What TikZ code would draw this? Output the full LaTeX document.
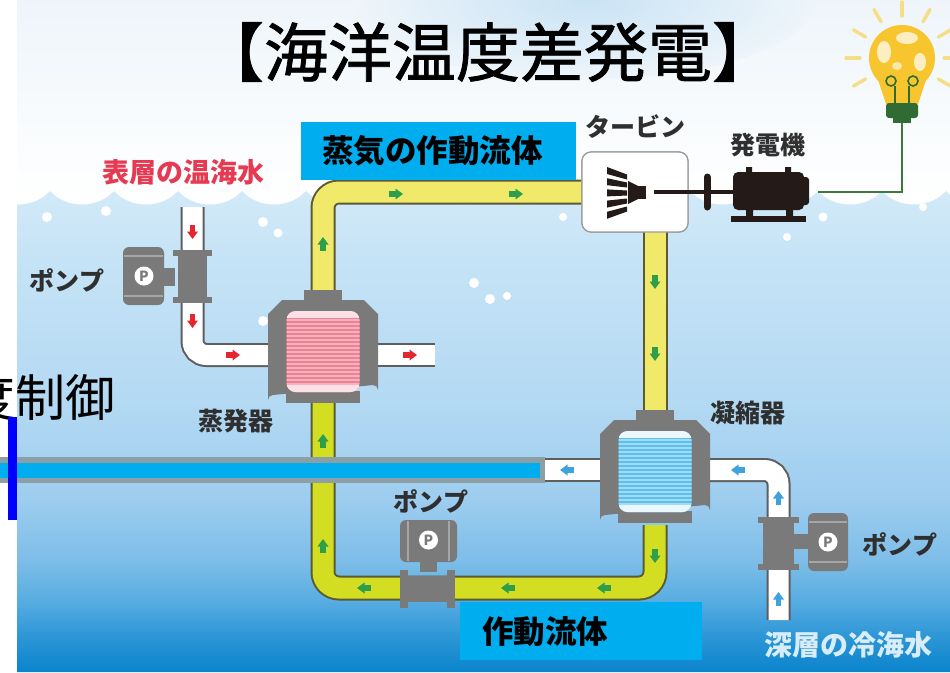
\documentclass[tikz,border=0pt]{standalone}
\usepackage{fontspec}
\newfontfamily\jp{Noto Sans CJK JP}
\newfontfamily\jpheavy[FakeBold=1.2]{Noto Sans CJK JP}
\usetikzlibrary{calc}

% palette
\definecolor{seaA}{HTML}{0A84CC}
\definecolor{seaB}{HTML}{2B95D6}
\definecolor{seaC}{HTML}{58ADE1}
\definecolor{seaD}{HTML}{7DBDE8}
\definecolor{seaE}{HTML}{9DCDEF}
\definecolor{seaF}{HTML}{B3D9F3}
\definecolor{seaG}{HTML}{C7E4F6}
\definecolor{seaH}{HTML}{D2EAF8}
\definecolor{skyTop}{HTML}{EEF5FA}
\definecolor{skyMid}{HTML}{F6FAFD}
\definecolor{skyHaze}{HTML}{C9E3F5}
\definecolor{pipeYel}{HTML}{F1E96A}
\definecolor{pipeLime}{HTML}{D3DD22}
\definecolor{pipeEdge}{HTML}{5A5A34}
\definecolor{pipeGrey}{HTML}{5E5E5E}
\definecolor{housing}{HTML}{7A7A7A}
\definecolor{housingLine}{HTML}{A6A6A6}
\definecolor{pinkA}{HTML}{F08293}
\definecolor{pinkB}{HTML}{F8B3BE}
\definecolor{pinkTop}{HTML}{FCE1E6}
\definecolor{iceA}{HTML}{5CC0EE}
\definecolor{iceB}{HTML}{A3DAF6}
\definecolor{iceTop}{HTML}{EAF7FD}
\definecolor{flowGreen}{HTML}{2E9E4A}
\definecolor{flowRed}{HTML}{E3262F}
\definecolor{flowBlue}{HTML}{3EA3DD}
\definecolor{labelCyan}{HTML}{00AEEF}
\definecolor{barGrey}{HTML}{8C9FA4}
\definecolor{txtDark}{HTML}{2F2F2F}
\definecolor{warmTxt}{HTML}{E53A51}
\definecolor{coldTxt}{HTML}{D8EDF9}
\definecolor{genDark}{HTML}{241A17}
\definecolor{wireGreen}{HTML}{3B7A3B}
\definecolor{bulbYel}{HTML}{F7C62E}
\definecolor{rayYel}{HTML}{F5DE86}
\definecolor{baseGreen}{HTML}{2F6B32}
\definecolor{turbEdge}{HTML}{9A9A9A}

% TikZ stretches the 25bp--75bp band of a shading over the path
\pgfdeclareverticalshading{seashade}{100bp}{color(0bp)=(seaA); color(25bp)=(seaA); color(28.5bp)=(seaB); color(32.5bp)=(seaC); color(36.5bp)=(seaD); color(43bp)=(seaE); color(53bp)=(seaF); color(69bp)=(seaG); color(75bp)=(seaH); color(100bp)=(seaH)}

% heat exchanger housing with a striped window
\newcommand\heatx[4]{%
  \begin{scope}[shift={(#2,#3)}]
    \coordinate (#1) at (0,0);
    \fill[housing] (-19,-57) rectangle (19,-45);
    \fill[housing] (-55,-33) -- (-41,-47) -- (41,-47) -- (55,-33) -- (55,43)
      arc[start angle=0, end angle=-90, radius=5] -- (-50,48)
      arc[start angle=-90, end angle=-180, radius=5] -- cycle;
    \fill[housing] (-37,44) rectangle (37,56);
    \begin{scope}
      \clip[rounded corners=9] (-36.5,-36) rectangle (36.5,45);
      \fill[#4A] (-37,-37) rectangle (37,46);
      \foreach \k in {0,...,19} \fill[#4B] (-37,{-28+4*\k}) rectangle (37,{-26+4*\k});
      \fill[#4Top] (-37,-37) rectangle (37,-29);
      \fill[#4Top] (-37,38) rectangle (37,46);
    \end{scope}
  \end{scope}}

\tikzset{
  ypipeU/.style={draw=pipeYel, line width=21, rounded corners=16,
    preaction={draw=pipeEdge, line width=25}},
  ypipeL/.style={draw=pipeLime, line width=21, rounded corners=16,
    preaction={draw=pipeEdge, line width=25}},
  wpipe/.style={draw=white, line width=20, rounded corners=14,
    preaction={draw=pipeGrey, line width=24}},
  flow/.pic={
    \fill (-8,-2.6) rectangle (-1,2.6);
    \fill (-1.5,-5.5) -- (6,0) -- (-1.5,5.5) -- cycle;},
  motor/.style={fill=housing, rounded corners=6},
  flange/.style={fill=housing},
  pcirc/.style={circle, fill=white, inner sep=0, minimum size=19,
    font=\jp\bfseries\fontsize{14}{14}\selectfont, text=housing},
  lbl/.style={inner sep=0, text=txtDark, font=\jp\bfseries\fontsize{25}{25}\selectfont},
  cyanbox/.style={fill=labelCyan, inner sep=0},
  boxtxt/.style={inner sep=0, anchor=west, text=black,
    font=\jp\bfseries\fontsize{31.5}{31.5}\selectfont},
}

\begin{document}
\begin{tikzpicture}[x=1pt,y=-1pt]
\useasboundingbox (0,0) rectangle (950,672);
\fill[white] (0,0) rectangle (950,672);

% ---------- sky and sea ----------
\begin{scope}
  \clip (17,0) rectangle (950,672);
  \shade[top color=skyTop, bottom color=white] (17,0) rectangle (950,200);
  \begin{scope}
    \clip (17,0) rectangle (950,120);
    \shade[inner color=skyHaze, outer color=skyTop] (585,0) ellipse [x radius=230, y radius=80];
  \end{scope}
  \shade[shading=seashade] (-14,672) -- (-14,191)
    \foreach \i in {0,...,15} { .. controls ({-14+64*\i+16},209) and ({-14+64*(\i+1)-16},209) .. ({-14+64*(\i+1)},191) }
    -- (1010,672) -- cycle;
  % bubbles
  \foreach \p/\r in {(47,217)/5,(106,211)/5,(263,222)/5,(278,233)/4.5,(263,321)/5,
      (474,283)/5,(490,299)/5,(507,296)/4,(563,217)/4,(823,217)/4.5,(787,237)/4,(923,207)/4}
    \fill[white] \p circle[radius=\r];
\end{scope}

% ---------- key points ----------
\coordinate (evapTop) at (323,292);
\coordinate (evapBot) at (323,400);
\coordinate (condTop) at (655,412);
\coordinate (condBot) at (655,525);
\coordinate (warmIn) at (192.5,207);
\coordinate (warmOut) at (435,355);
\coordinate (coldIn) at (778.5,620);
\coordinate (coldOut) at (545,470);

% ---------- sea-water pipes ----------
\draw[wpipe] (warmIn) |- (272,355);
\draw[wpipe] (376,355) -- (warmOut);
\draw[wpipe] (coldOut) -- (600,470);
\draw[wpipe] (706,470) -| (coldIn);

% ---------- working-fluid loop ----------
\node[draw=turbEdge, fill=white, rounded corners=9, minimum width=106, minimum height=80,
      line width=1.2, inner sep=0] (turbine) at (635,192) {};
\draw[ypipeU] (evapTop) |- (turbine.west);
\draw[ypipeU] (655,231) -- (condTop);
\draw[ypipeL] (evapBot) |- (655,588) -- (condBot);
% turbine casing drawn again over the pipe ends
\node[draw=turbEdge, fill=white, rounded corners=9, minimum width=106, minimum height=80,
      line width=1.2, inner sep=0] (turbineBox) at (635,192) {};

% ---------- evaporator and condenser ----------
\heatx{evap}{323}{347}{pink}
\heatx{cond}{655}{467}{ice}

% ---------- pumps ----------
% warm-water pump
\fill[flange] (178,255) rectangle (207,300);
\fill[flange] (173,250) rectangle (212,256);
\fill[flange] (173,297) rectangle (212,303);
\fill[flange] (163,268) rectangle (175,286);
\fill[motor] (123,247) rectangle (164,305);
\draw[housingLine, line width=1.3] (124,256) -- (163,256) (124,296) -- (163,296);
\node[pcirc] (pumpWarmP) at (144,276) {P};
% cold-water pump
\fill[flange] (763,522) rectangle (794,566);
\fill[flange] (758,517) rectangle (799,523);
\fill[flange] (758,564) rectangle (799,570);
\fill[flange] (793,534) rectangle (809,549);
\fill[motor] (808,513) rectangle (848,571);
\draw[housingLine, line width=1.3] (809,522) -- (847,522) (809,562) -- (847,562);
\node[pcirc] (pumpColdP) at (828,542) {P};
% working-fluid pump
\fill[flange] (405,576) rectangle (450,602);
\fill[flange] (400,570) rectangle (408,608);
\fill[flange] (447,570) rectangle (455,608);
\fill[flange] (420,560) rectangle (437,572);
\fill[motor] (400,520) rectangle (457,562);
\draw[housingLine, line width=1.3] (408,521) -- (408,561) (449,521) -- (449,561);
\node[pcirc] (pumpFluidP) at (428.5,540) {P};

% ---------- flow arrows ----------
\foreach \p/\a in {(323,243)/90,(323,440)/90,(323,545)/90,(397,194)/0,(517,194)/0,
    (655,283)/-90,(655,355)/-90,(655,557)/-90,(363,588)/180,(507,588)/180,(603,588)/180}
  \pic[color=flowGreen, rotate=\a] at \p {flow};
\foreach \p/\a in {(192.5,233)/-90,(192.5,322)/-90,(234,355)/0,(411,355)/0}
  \pic[color=flowRed, rotate=\a] at \p {flow};
\foreach \p/\a in {(566,470)/180,(737,470)/180,(778.5,497)/90,(778.5,598)/90}
  \pic[color=flowBlue, rotate=\a] at \p {flow};

% ---------- turbine internals ----------
\foreach \k in {0,...,4}
  \fill[genDark] (607,{167+11.2*\k}) -- (627,{174.5+8*\k}) -- (627,{179.5+8*\k}) -- (607,{174+11.2*\k}) -- cycle;
\fill[genDark] (628,181) -- (638,186) -- (638,199) -- (628,204) -- cycle;
\fill[genDark] (638,186) rectangle (646,199);

% ---------- generator ----------
\coordinate (genIn) at (733,192);
\draw[genDark, line width=4] (654,192) -- (genIn);
\draw[genDark, line width=7, line cap=round] (707,177) -- (707,207);
\fill[genDark, rounded corners=5] (733,172) rectangle (804,210);
\fill[genDark, rounded corners=3] (800,177) rectangle (809,205);
\fill[genDark] (746,167) rectangle (752,174) (785,167) rectangle (791,174);
\fill[genDark] (746,208) rectangle (753,217) (786,208) rectangle (793,217);
\fill[genDark] (731,216) rectangle (806,222);
\node[inner sep=0] (generator) at (770,191) {};

% ---------- light bulb and wire ----------
\coordinate (bulbC) at (902,58);
\coordinate (bulbFoot) at (902,122);
\draw[wireGreen, line width=2.5] (bulbFoot) |- (818,192);
\foreach \a in {-90,-60,-120,-30,-150,0,180,30,150}
  \draw[rayYel, line width=3.5, line cap=round] ($(bulbC)+(\a:42)$) -- ($(bulbC)+(\a:56)$);
\fill[bulbYel] (bulbC) circle[radius=33];
\fill[bulbYel] (878,80) -- (926,80) -- (918,104) -- (886,104) -- cycle;
\fill[white, opacity=0.7] (884,52) ellipse [x radius=7, y radius=11];
\fill[white, opacity=0.7] (907,38) ellipse [x radius=11, y radius=6];
\fill[white, opacity=0.7] (920,62) ellipse [x radius=6, y radius=9];
\fill[white, opacity=0.6] (897,66) ellipse [x radius=5, y radius=4];
\draw[baseGreen, line width=1.6] (895,104) -- (895,86) (909,104) -- (909,86);
\draw[baseGreen, line width=1.6] (891,81) circle[radius=5] (913,81) circle[radius=5];
\fill[baseGreen, rounded corners=3] (886,103) rectangle (918,118);
\fill[baseGreen] (893,117) rectangle (911,123);
\node[inner sep=0] (bulb) at (bulbC) {};

% ---------- texts ----------
\node[inner sep=0, font=\jpheavy\fontsize{64}{64}\selectfont] (title) at (488,52) {【海洋温度差発電】};
\node[lbl] (lblTurbine) at (635,127) {タービン};
\node[lbl] (lblGen) at (768,145) {発電機};
\node[lbl, text=warmTxt, font=\jp\bfseries\fontsize{27}{27}\selectfont] (lblWarm) at (183,172) {表層の温海水};
\node[lbl] (lblPumpL) at (67,280) {ポンプ};
\node[lbl] (lblEvap) at (236,421) {蒸発器};
\node[lbl] (lblCond) at (748,413) {凝縮器};
\node[lbl] (lblPumpM) at (431,501) {ポンプ};
\node[lbl] (lblPumpR) at (900,544) {ポンプ};
\node[lbl, text=coldTxt, font=\jp\bfseries\fontsize{28}{28}\selectfont] (lblCold) at (848,645) {深層の冷海水};

% ---------- label boxes ----------
\fill[cyanbox] (301,122) rectangle (576,180);
\node[boxtxt] (lblVapour) at (322,151) {蒸気の作動流体};
\fill[cyanbox] (460,602) rectangle (702,660);
\node[boxtxt] (lblFluid) at (482,632) {作動流体};

% ---------- control bar ----------
\fill[barGrey] (0,457) rectangle (545,483);
\fill[labelCyan] (0,463) rectangle (540,478);
\node[inner sep=0, anchor=east, font=\jp\fontsize{50}{50}\selectfont] (lblCtrl) at (116,398) {度制御};
\fill[blue] (8,417) rectangle (17,520);
\end{tikzpicture}
\end{document}
